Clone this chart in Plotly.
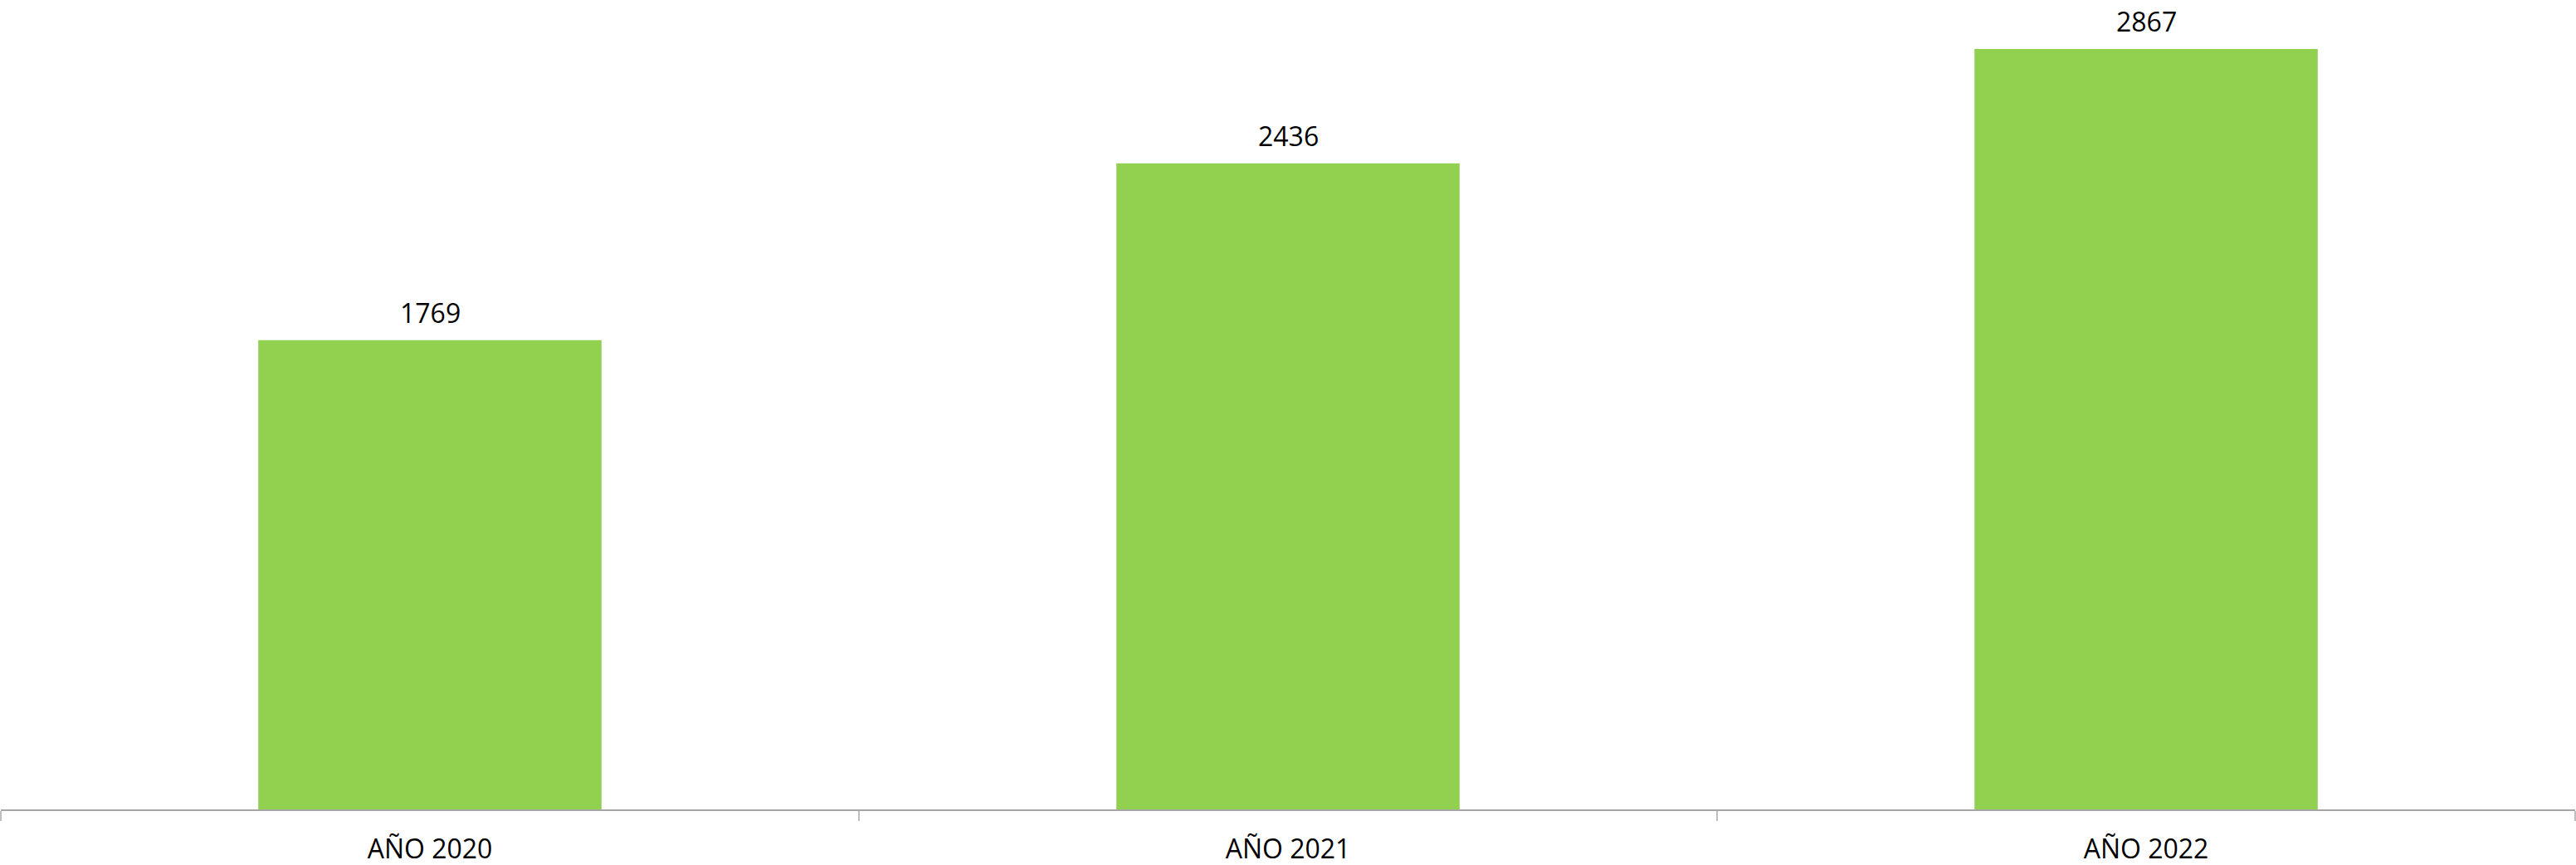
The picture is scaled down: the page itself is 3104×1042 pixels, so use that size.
import plotly.graph_objects as go

categories = ["AÑO 2020", "AÑO 2021", "AÑO 2022"]
values = [1769, 2436, 2867]

BAR_COLOR = "#92d050"
FONT = "Open Sans"

fig = go.Figure()
fig.add_trace(go.Bar(
    x=categories,
    y=values,
    marker=dict(color=BAR_COLOR, line=dict(width=0)),
    hoverinfo="x+y",
))

for c, v in zip(categories, values):
    fig.add_annotation(
        x=c, y=v, text=str(v), showarrow=False,
        xanchor="center", yanchor="bottom", yshift=10,
        font=dict(family=FONT, size=32, color="#000000"),
    )

fig.update_layout(
    width=3104, height=1042,
    margin=dict(l=1, r=1, t=0, b=67, pad=0),
    paper_bgcolor="white", plot_bgcolor="white",
    bargap=0.6,
    showlegend=False,
    font=dict(family=FONT, size=32, color="#000000"),
    xaxis=dict(
        type="category",
        range=[-0.5, 2.5],
        showline=True, linecolor="#a6a6a6", linewidth=2,
        ticks="outside", tickson="boundaries", ticklen=12,
        tickcolor="#bfbfbf", tickwidth=2,
        ticklabelstandoff=19,
        showgrid=False, zeroline=False,
        tickfont=dict(family=FONT, size=32, color="#000000"),
    ),
    yaxis=dict(
        range=[0, 3052],
        visible=False, showgrid=False, zeroline=False,
    ),
)

fig.write_html(
    "out.html",
    config={"displayModeBar": False},
    post_script="document.body.style.margin='0';document.body.style.padding='0';",
)
